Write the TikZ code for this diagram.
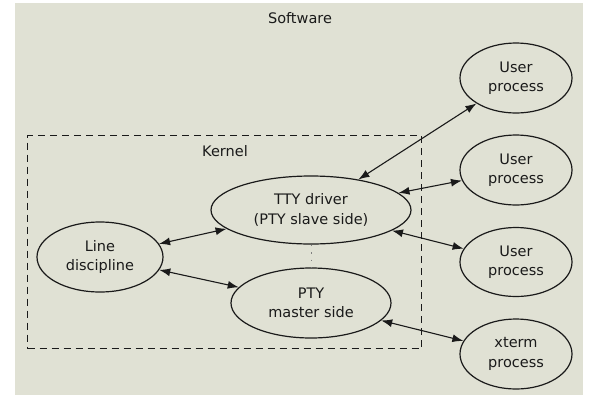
\documentclass[tikz,border=0pt]{standalone}
\usepackage{fontspec}
\setmainfont{DejaVu Sans}
\usetikzlibrary{shapes.geometric,arrows.meta}
\definecolor{panel}{HTML}{E0E1D4}
\definecolor{ink}{HTML}{1A1A1A}
\begin{document}
\begin{tikzpicture}[x=1pt,y=-1pt,
  proc/.style={ellipse,draw=ink,line width=1.2pt,inner sep=0pt,align=center,
    font=\fontsize{14.5}{19.5}\selectfont,text=ink},
  link/.style={{Latex[length=11pt,width=8pt]}-{Latex[length=11pt,width=8pt]},
    draw=ink,line width=1.1pt},
  lbl/.style={font=\fontsize{14.5}{19.5}\selectfont,text=ink,inner sep=0pt}]
\useasboundingbox (0,0) rectangle (600,400);
\fill[white] (0,0) rectangle (600,400);
\node[fill=panel,minimum width=568pt,minimum height=392pt,inner sep=0pt,
  anchor=north west] (sw) at (15,3) {};
\node[lbl] (swlabel) at (300,18) {Software};
\node[draw=ink,dash pattern=on 7pt off 5pt,line width=1.1pt,minimum width=394pt,
  minimum height=213pt,anchor=north west,inner sep=0pt] (kernel) at (27,135) {};
\node[lbl] (klabel) at (225,151) {Kernel};
\node[proc,minimum width=200pt,minimum height=68pt] (tty) at (311,210) {TTY driver\\(PTY slave side)};
\node[proc,minimum width=160pt,minimum height=70pt] (pty) at (311,303) {PTY\\master side};
\node[proc,minimum width=126pt,minimum height=70pt] (line) at (100,257) {Line\\discipline};
\node[proc,minimum width=112pt,minimum height=70pt] (u1) at (516,78) {User\\process};
\node[proc,minimum width=112pt,minimum height=70pt] (u2) at (516,170) {User\\process};
\node[proc,minimum width=112pt,minimum height=69pt] (u3) at (516,262) {User\\process};
\node[proc,minimum width=112pt,minimum height=70pt] (xt) at (516,354) {xterm\\process};
\draw[link] (tty) -- (u1);
\draw[link] (tty) -- (u2);
\draw[link] (tty) -- (u3);
\draw[link] (line) -- (tty);
\draw[link] (line) -- (pty);
\draw[link] (pty) -- (xt);
\draw[gray,line width=1pt,dash pattern=on 1.5pt off 6pt] (tty.south) -- (pty.north);
\end{tikzpicture}
\end{document}
